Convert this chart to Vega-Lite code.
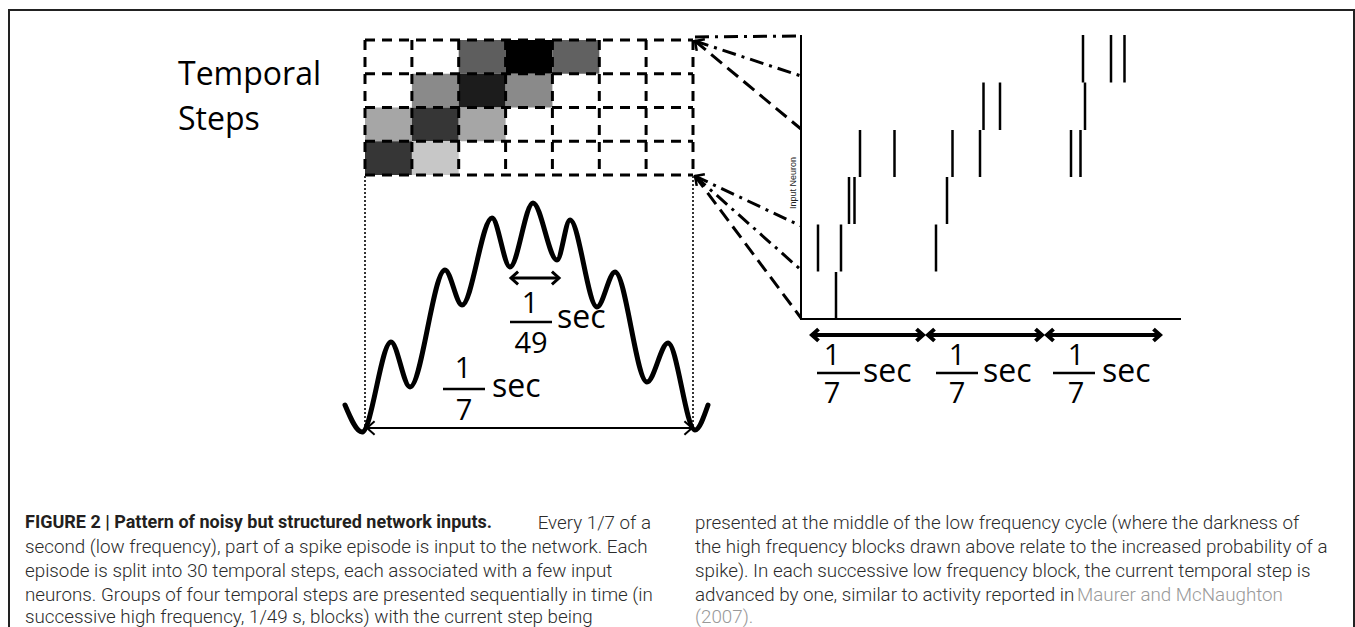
{
  "$schema": "https://vega.github.io/schema/vega-lite/v6.json",
  "width": 1355,
  "height": 627,
  "padding": 0,
  "autosize": {"type": "none"},
  "background": "#ffffff",
  "config": {"view": {"stroke": null}},
  "datasets": {
    "frame": [{"x": 9, "x2": 1354, "y": 10, "y2": 640}],
    "cells": [
      {"row": 0, "col": 2, "x": 458.7, "x2": 505.6, "y": 40, "y2": 73.75, "p": 0.63},
      {"row": 0, "col": 3, "x": 505.6, "x2": 552.4, "y": 40, "y2": 73.75, "p": 1.0},
      {"row": 0, "col": 4, "x": 552.4, "x2": 599.3, "y": 40, "y2": 73.75, "p": 0.62},
      {"row": 1, "col": 1, "x": 411.9, "x2": 458.7, "y": 73.75, "y2": 107.5, "p": 0.46},
      {"row": 1, "col": 2, "x": 458.7, "x2": 505.6, "y": 73.75, "y2": 107.5, "p": 0.89},
      {"row": 1, "col": 3, "x": 505.6, "x2": 552.4, "y": 73.75, "y2": 107.5, "p": 0.46},
      {"row": 2, "col": 0, "x": 365, "x2": 411.9, "y": 107.5, "y2": 141.25, "p": 0.35},
      {"row": 2, "col": 1, "x": 411.9, "x2": 458.7, "y": 107.5, "y2": 141.25, "p": 0.79},
      {"row": 2, "col": 2, "x": 458.7, "x2": 505.6, "y": 107.5, "y2": 141.25, "p": 0.35},
      {"row": 3, "col": 0, "x": 365, "x2": 411.9, "y": 141.25, "y2": 175, "p": 0.79},
      {"row": 3, "col": 1, "x": 411.9, "x2": 458.7, "y": 141.25, "y2": 175, "p": 0.22}
    ],
    "gridLines": [
      {"x": 365, "x2": 693, "y": 40, "y2": 40},
      {"x": 365, "x2": 693, "y": 73.75, "y2": 73.75},
      {"x": 365, "x2": 693, "y": 107.5, "y2": 107.5},
      {"x": 365, "x2": 693, "y": 141.25, "y2": 141.25},
      {"x": 365, "x2": 693, "y": 175, "y2": 175},
      {"x": 365, "x2": 365, "y": 40, "y2": 175},
      {"x": 411.9, "x2": 411.9, "y": 40, "y2": 175},
      {"x": 458.7, "x2": 458.7, "y": 40, "y2": 175},
      {"x": 505.6, "x2": 505.6, "y": 40, "y2": 175},
      {"x": 552.4, "x2": 552.4, "y": 40, "y2": 175},
      {"x": 599.3, "x2": 599.3, "y": 40, "y2": 175},
      {"x": 646.1, "x2": 646.1, "y": 40, "y2": 175},
      {"x": 693, "x2": 693, "y": 40, "y2": 175}
    ],
    "dotted": [
      {"x": 365, "x2": 365, "y": 176, "y2": 428},
      {"x": 693, "x2": 693, "y": 176, "y2": 428}
    ],
    "connectors": [
      {"x": 695, "y": 37, "x2": 801, "y2": 36, "style": "dashdot"},
      {"x": 695, "y": 41, "x2": 801, "y2": 76, "style": "dashdot"},
      {"x": 695, "y": 41, "x2": 801, "y2": 129, "style": "dash"},
      {"x": 695, "y": 176, "x2": 801, "y2": 226, "style": "dashdot"},
      {"x": 695, "y": 176, "x2": 801, "y2": 270, "style": "dashdot"},
      {"x": 695, "y": 176, "x2": 801, "y2": 318, "style": "dash"}
    ],
    "corners": [{"x": 695, "y": 41}, {"x": 695, "y": 176}],
    "axes": [
      {"x": 801, "x2": 801, "y": 35, "y2": 320},
      {"x": 800, "x2": 1181, "y": 319, "y2": 319}
    ],
    "spikes": [
      {"neuron": 0, "x": 836, "y": 272, "y2": 319},
      {"neuron": 1, "x": 818, "y": 224.5, "y2": 271.5},
      {"neuron": 1, "x": 841, "y": 224.5, "y2": 271.5},
      {"neuron": 1, "x": 936, "y": 224.5, "y2": 271.5},
      {"neuron": 2, "x": 849, "y": 177, "y2": 224},
      {"neuron": 2, "x": 854.5, "y": 177, "y2": 224},
      {"neuron": 2, "x": 947, "y": 177, "y2": 224},
      {"neuron": 3, "x": 860, "y": 130, "y2": 177},
      {"neuron": 3, "x": 894.5, "y": 130, "y2": 177},
      {"neuron": 3, "x": 952.5, "y": 130, "y2": 177},
      {"neuron": 3, "x": 980, "y": 130, "y2": 177},
      {"neuron": 3, "x": 1071, "y": 130, "y2": 177},
      {"neuron": 3, "x": 1080.5, "y": 130, "y2": 177},
      {"neuron": 4, "x": 983.5, "y": 82.5, "y2": 130},
      {"neuron": 4, "x": 1000, "y": 82.5, "y2": 130},
      {"neuron": 4, "x": 1085, "y": 82.5, "y2": 130},
      {"neuron": 5, "x": 1083, "y": 35, "y2": 82.5},
      {"neuron": 5, "x": 1111, "y": 35, "y2": 82.5},
      {"neuron": 5, "x": 1124.5, "y": 35, "y2": 82.5}
    ],
    "wave": [
      {"x": 345, "y": 405}, {"x": 362, "y": 432}, {"x": 391, "y": 342}, {"x": 410, "y": 387},
      {"x": 445, "y": 270}, {"x": 462, "y": 305}, {"x": 492, "y": 218}, {"x": 510, "y": 267},
      {"x": 533, "y": 203}, {"x": 557, "y": 260}, {"x": 570, "y": 220}, {"x": 597, "y": 307},
      {"x": 615, "y": 272}, {"x": 647, "y": 382}, {"x": 668, "y": 343}, {"x": 695, "y": 430},
      {"x": 708, "y": 405}
    ],
    "arrows": [
      {"kind": "span", "x1": 367, "x2": 692, "y": 428},
      {"kind": "hf", "x1": 511, "x2": 559, "y": 278},
      {"kind": "lf", "x1": 812, "x2": 923, "y": 335},
      {"kind": "lf", "x1": 928, "x2": 1042, "y": 335},
      {"kind": "lf", "x1": 1047, "x2": 1160, "y": 335}
    ],
    "bars": [
      {"x": 510, "x2": 552, "y": 322},
      {"x": 443, "x2": 485, "y": 389},
      {"x": 817, "x2": 860, "y": 373},
      {"x": 936, "x2": 978, "y": 373},
      {"x": 1053, "x2": 1095, "y": 373}
    ],
    "digits": [
      {"text": "1", "x": 530, "y": 313}, {"text": "49", "x": 531, "y": 353},
      {"text": "1", "x": 463, "y": 378}, {"text": "7", "x": 464, "y": 420},
      {"text": "1", "x": 832, "y": 365}, {"text": "7", "x": 832, "y": 403},
      {"text": "1", "x": 957, "y": 365}, {"text": "7", "x": 957, "y": 403},
      {"text": "1", "x": 1076, "y": 365}, {"text": "7", "x": 1076, "y": 403}
    ],
    "units": [
      {"text": "sec", "x": 557, "y": 328},
      {"text": "sec", "x": 492, "y": 397},
      {"text": "sec", "x": 863, "y": 382},
      {"text": "sec", "x": 983, "y": 382},
      {"text": "sec", "x": 1102, "y": 382}
    ],
    "titles": [
      {"text": "Temporal", "x": 178, "y": 85},
      {"text": "Steps", "x": 178, "y": 130}
    ],
    "ylabel": [{"text": "Input Neuron", "x": 793, "y": 183}],
    "caption": [
      {"style": "bold", "x": 25, "y": 523, "text": "FIGURE 2 | Pattern of noisy but structured network inputs."},
      {"style": "bodyR", "x": 651, "y": 523, "text": "Every 1/7 of a"},
      {"style": "body", "x": 25, "y": 547, "text": "second (low frequency), part of a spike episode is input to the network. Each"},
      {"style": "body", "x": 25, "y": 571, "text": "episode is split into 30 temporal steps, each associated with a few input"},
      {"style": "body", "x": 25, "y": 595, "text": "neurons. Groups of four temporal steps are presented sequentially in time (in"},
      {"style": "body", "x": 25, "y": 617, "text": "successive high frequency, 1/49 s, blocks) with the current step being"},
      {"style": "body", "x": 695, "y": 523, "text": "presented at the middle of the low frequency cycle (where the darkness of"},
      {"style": "body", "x": 695, "y": 547, "text": "the high frequency blocks drawn above relate to the increased probability of a"},
      {"style": "body", "x": 695, "y": 571, "text": "spike). In each successive low frequency block, the current temporal step is"},
      {"style": "body", "x": 695, "y": 595, "text": "advanced by one, similar to activity reported in"},
      {"style": "ref", "x": 1077, "y": 595, "text": "Maurer and McNaughton"},
      {"style": "ref", "x": 695, "y": 617, "text": "(2007)."}
    ]
  },
  "layer": [
    {
      "data": {"name": "frame"},
      "mark": {"type": "rect", "fill": null, "filled": false, "stroke": "#222222", "strokeWidth": 2},
      "encoding": {
        "x": {"field": "x", "type": "quantitative", "scale": {"domain": [0, 1355], "nice": false, "zero": false}, "axis": null},
        "x2": {"field": "x2"},
        "y": {"field": "y", "type": "quantitative", "scale": {"domain": [0, 627], "nice": false, "zero": false, "reverse": true}, "axis": null},
        "y2": {"field": "y2"}
      }
    },
    {
      "data": {"name": "cells"},
      "mark": {"type": "rect"},
      "encoding": {
        "x": {"field": "x", "type": "quantitative", "scale": {"domain": [0, 1355], "nice": false, "zero": false}, "axis": null},
        "x2": {"field": "x2"},
        "y": {"field": "y", "type": "quantitative", "scale": {"domain": [0, 627], "nice": false, "zero": false, "reverse": true}, "axis": null},
        "y2": {"field": "y2"},
        "color": {"field": "p", "type": "quantitative", "scale": {"domain": [0, 1], "range": ["#ffffff", "#000000"], "interpolate": "rgb"}, "legend": null}
      }
    },
    {
      "data": {"name": "gridLines"},
      "mark": {"type": "rule", "color": "#000000", "strokeWidth": 3, "strokeDash": [10, 7]},
      "encoding": {
        "x": {"field": "x", "type": "quantitative", "scale": {"domain": [0, 1355], "nice": false, "zero": false}, "axis": null},
        "x2": {"field": "x2"},
        "y": {"field": "y", "type": "quantitative", "scale": {"domain": [0, 627], "nice": false, "zero": false, "reverse": true}, "axis": null},
        "y2": {"field": "y2"}
      }
    },
    {
      "data": {"name": "dotted"},
      "mark": {"type": "rule", "color": "#333333", "strokeWidth": 2, "strokeDash": [2, 2]},
      "encoding": {
        "x": {"field": "x", "type": "quantitative", "scale": {"domain": [0, 1355], "nice": false, "zero": false}, "axis": null},
        "x2": {"field": "x2"},
        "y": {"field": "y", "type": "quantitative", "scale": {"domain": [0, 627], "nice": false, "zero": false, "reverse": true}, "axis": null},
        "y2": {"field": "y2"}
      }
    },
    {
      "data": {"name": "connectors"},
      "mark": {"type": "rule", "color": "#000000", "strokeWidth": 3},
      "encoding": {
        "x": {"field": "x", "type": "quantitative", "scale": {"domain": [0, 1355], "nice": false, "zero": false}, "axis": null},
        "x2": {"field": "x2"},
        "y": {"field": "y", "type": "quantitative", "scale": {"domain": [0, 627], "nice": false, "zero": false, "reverse": true}, "axis": null},
        "y2": {"field": "y2"},
        "strokeDash": {"field": "style", "type": "nominal", "scale": {"domain": ["dash", "dashdot"], "range": [[14, 7], [14, 6, 3, 6]]}, "legend": null}
      }
    },
    {
      "data": {"name": "corners"},
      "mark": {"type": "point", "shape": "M 1 -1 L 0 0 L 1 1", "filled": false, "stroke": "#000000", "strokeWidth": 2.5, "size": 200, "angle": 35, "opacity": 1},
      "encoding": {
        "x": {"field": "x", "type": "quantitative", "scale": {"domain": [0, 1355], "nice": false, "zero": false}, "axis": null},
        "y": {"field": "y", "type": "quantitative", "scale": {"domain": [0, 627], "nice": false, "zero": false, "reverse": true}, "axis": null}
      }
    },
    {
      "data": {"name": "axes"},
      "mark": {"type": "rule", "color": "#000000", "strokeWidth": 2},
      "encoding": {
        "x": {"field": "x", "type": "quantitative", "scale": {"domain": [0, 1355], "nice": false, "zero": false}, "axis": null},
        "x2": {"field": "x2"},
        "y": {"field": "y", "type": "quantitative", "scale": {"domain": [0, 627], "nice": false, "zero": false, "reverse": true}, "axis": null},
        "y2": {"field": "y2"}
      }
    },
    {
      "data": {"name": "spikes"},
      "mark": {"type": "rule", "color": "#000000", "strokeWidth": 2.5},
      "encoding": {
        "x": {"field": "x", "type": "quantitative", "scale": {"domain": [0, 1355], "nice": false, "zero": false}, "axis": null},
        "y": {"field": "y", "type": "quantitative", "scale": {"domain": [0, 627], "nice": false, "zero": false, "reverse": true}, "axis": null},
        "y2": {"field": "y2"}
      }
    },
    {
      "data": {"name": "wave"},
      "mark": {"type": "line", "color": "#000000", "strokeWidth": 5, "interpolate": "monotone", "strokeCap": "round", "strokeJoin": "round"},
      "encoding": {
        "x": {"field": "x", "type": "quantitative", "scale": {"domain": [0, 1355], "nice": false, "zero": false}, "axis": null},
        "y": {"field": "y", "type": "quantitative", "scale": {"domain": [0, 627], "nice": false, "zero": false, "reverse": true}, "axis": null}
      }
    },
    {
      "data": {"name": "arrows"},
      "mark": {"type": "rule", "color": "#000000"},
      "encoding": {
        "x": {"field": "x1", "type": "quantitative", "scale": {"domain": [0, 1355], "nice": false, "zero": false}, "axis": null},
        "x2": {"field": "x2"},
        "y": {"field": "y", "type": "quantitative", "scale": {"domain": [0, 627], "nice": false, "zero": false, "reverse": true}, "axis": null},
        "strokeWidth": {"field": "kind", "type": "nominal", "scale": {"domain": ["span", "hf", "lf"], "range": [2, 4, 3.5]}, "legend": null}
      }
    },
    {
      "data": {"name": "arrows"},
      "mark": {"type": "point", "shape": "M 1 -0.9 L 0 0 L 1 0.9", "filled": false, "stroke": "#000000", "opacity": 1},
      "encoding": {
        "x": {"field": "x1", "type": "quantitative", "scale": {"domain": [0, 1355], "nice": false, "zero": false}, "axis": null},
        "y": {"field": "y", "type": "quantitative", "scale": {"domain": [0, 627], "nice": false, "zero": false, "reverse": true}, "axis": null},
        "size": {"field": "kind", "type": "nominal", "scale": {"domain": ["span", "hf", "lf"], "range": [230, 170, 380]}, "legend": null},
        "strokeWidth": {"field": "kind", "type": "nominal", "scale": {"domain": ["span", "hf", "lf"], "range": [2.5, 4, 5]}, "legend": null}
      }
    },
    {
      "data": {"name": "arrows"},
      "mark": {"type": "point", "shape": "M -1 -0.9 L 0 0 L -1 0.9", "filled": false, "stroke": "#000000", "opacity": 1},
      "encoding": {
        "x": {"field": "x2", "type": "quantitative", "scale": {"domain": [0, 1355], "nice": false, "zero": false}, "axis": null},
        "y": {"field": "y", "type": "quantitative", "scale": {"domain": [0, 627], "nice": false, "zero": false, "reverse": true}, "axis": null},
        "size": {"field": "kind", "type": "nominal", "scale": {"domain": ["span", "hf", "lf"], "range": [230, 170, 380]}, "legend": null},
        "strokeWidth": {"field": "kind", "type": "nominal", "scale": {"domain": ["span", "hf", "lf"], "range": [2.5, 4, 5]}, "legend": null}
      }
    },
    {
      "data": {"name": "bars"},
      "mark": {"type": "rule", "color": "#000000", "strokeWidth": 2.5},
      "encoding": {
        "x": {"field": "x", "type": "quantitative", "scale": {"domain": [0, 1355], "nice": false, "zero": false}, "axis": null},
        "x2": {"field": "x2"},
        "y": {"field": "y", "type": "quantitative", "scale": {"domain": [0, 627], "nice": false, "zero": false, "reverse": true}, "axis": null}
      }
    },
    {
      "data": {"name": "digits"},
      "mark": {"type": "text", "font": "Open Sans", "fontSize": 29, "align": "center", "baseline": "alphabetic", "color": "#000000"},
      "encoding": {
        "x": {"field": "x", "type": "quantitative", "scale": {"domain": [0, 1355], "nice": false, "zero": false}, "axis": null},
        "y": {"field": "y", "type": "quantitative", "scale": {"domain": [0, 627], "nice": false, "zero": false, "reverse": true}, "axis": null},
        "text": {"field": "text"}
      }
    },
    {
      "data": {"name": "units"},
      "mark": {"type": "text", "font": "Open Sans", "fontSize": 32, "align": "left", "baseline": "alphabetic", "color": "#000000"},
      "encoding": {
        "x": {"field": "x", "type": "quantitative", "scale": {"domain": [0, 1355], "nice": false, "zero": false}, "axis": null},
        "y": {"field": "y", "type": "quantitative", "scale": {"domain": [0, 627], "nice": false, "zero": false, "reverse": true}, "axis": null},
        "text": {"field": "text"}
      }
    },
    {
      "data": {"name": "titles"},
      "mark": {"type": "text", "font": "Open Sans", "fontSize": 32, "align": "left", "baseline": "alphabetic", "color": "#000000"},
      "encoding": {
        "x": {"field": "x", "type": "quantitative", "scale": {"domain": [0, 1355], "nice": false, "zero": false}, "axis": null},
        "y": {"field": "y", "type": "quantitative", "scale": {"domain": [0, 627], "nice": false, "zero": false, "reverse": true}, "axis": null},
        "text": {"field": "text"}
      }
    },
    {
      "data": {"name": "ylabel"},
      "mark": {"type": "text", "font": "Liberation Sans", "fontSize": 9, "align": "center", "baseline": "middle", "angle": 270, "color": "#222222"},
      "encoding": {
        "x": {"field": "x", "type": "quantitative", "scale": {"domain": [0, 1355], "nice": false, "zero": false}, "axis": null},
        "y": {"field": "y", "type": "quantitative", "scale": {"domain": [0, 627], "nice": false, "zero": false, "reverse": true}, "axis": null},
        "text": {"field": "text"}
      }
    },
    {
      "data": {"name": "caption"},
      "transform": [{"filter": "datum.style === 'bold'"}],
      "mark": {"type": "text", "font": "Roboto", "fontSize": 18, "fontWeight": "bold", "align": "left", "baseline": "middle", "color": "#231f20"},
      "encoding": {
        "x": {"field": "x", "type": "quantitative", "scale": {"domain": [0, 1355], "nice": false, "zero": false}, "axis": null},
        "y": {"field": "y", "type": "quantitative", "scale": {"domain": [0, 627], "nice": false, "zero": false, "reverse": true}, "axis": null},
        "text": {"field": "text"}
      }
    },
    {
      "data": {"name": "caption"},
      "transform": [{"filter": "datum.style === 'body'"}],
      "mark": {"type": "text", "font": "Roboto", "fontSize": 18.8, "fontWeight": 300, "align": "left", "baseline": "middle", "color": "#2b2b2b"},
      "encoding": {
        "x": {"field": "x", "type": "quantitative", "scale": {"domain": [0, 1355], "nice": false, "zero": false}, "axis": null},
        "y": {"field": "y", "type": "quantitative", "scale": {"domain": [0, 627], "nice": false, "zero": false, "reverse": true}, "axis": null},
        "text": {"field": "text"}
      }
    },
    {
      "data": {"name": "caption"},
      "transform": [{"filter": "datum.style === 'bodyR'"}],
      "mark": {"type": "text", "font": "Roboto", "fontSize": 18.8, "fontWeight": 300, "align": "right", "baseline": "middle", "color": "#2b2b2b"},
      "encoding": {
        "x": {"field": "x", "type": "quantitative", "scale": {"domain": [0, 1355], "nice": false, "zero": false}, "axis": null},
        "y": {"field": "y", "type": "quantitative", "scale": {"domain": [0, 627], "nice": false, "zero": false, "reverse": true}, "axis": null},
        "text": {"field": "text"}
      }
    },
    {
      "data": {"name": "caption"},
      "transform": [{"filter": "datum.style === 'ref'"}],
      "mark": {"type": "text", "font": "Roboto", "fontSize": 18.8, "fontWeight": 300, "align": "left", "baseline": "middle", "color": "#999999"},
      "encoding": {
        "x": {"field": "x", "type": "quantitative", "scale": {"domain": [0, 1355], "nice": false, "zero": false}, "axis": null},
        "y": {"field": "y", "type": "quantitative", "scale": {"domain": [0, 627], "nice": false, "zero": false, "reverse": true}, "axis": null},
        "text": {"field": "text"}
      }
    }
  ]
}
